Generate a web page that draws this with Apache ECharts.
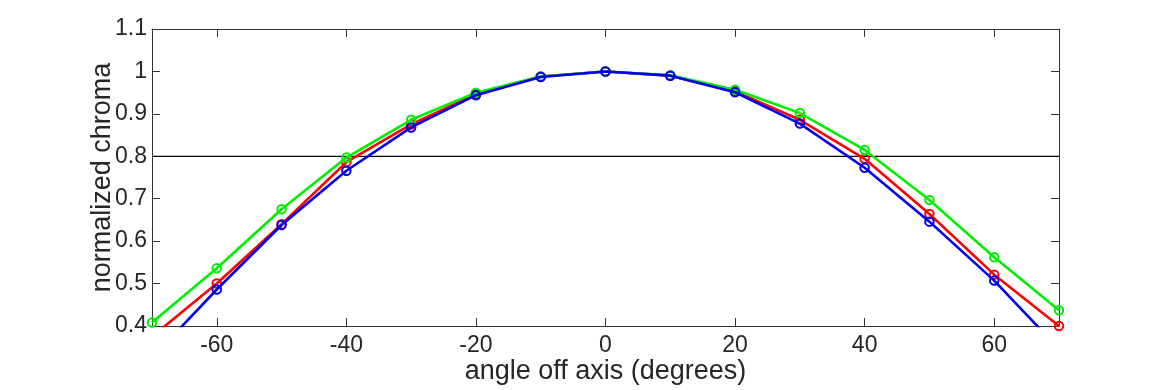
<!DOCTYPE html>
<html><head><meta charset="utf-8">
<script src="https://cdn.jsdelivr.net/npm/echarts@6/dist/echarts.min.js"></script>
<style>html,body{margin:0;padding:0;background:#fff}#c{width:1170px;height:390px}</style>
</head><body><div id="c"></div>
<script>
const angles = [-70,-60,-50,-40,-30,-20,-10,0,10,20,30,40,50,60,70];
const redVals   = [0.375,0.500,0.640,0.786,0.875,0.947,0.988,1.000,0.990,0.953,0.886,0.794,0.664,0.521,0.400];
const greenVals = [0.408,0.536,0.675,0.797,0.886,0.950,0.988,1.000,0.991,0.957,0.902,0.815,0.697,0.562,0.437];
const blueVals  = [0.325,0.486,0.638,0.766,0.868,0.944,0.987,1.000,0.990,0.951,0.877,0.773,0.646,0.507,0.346];
const xTicks = [-60,-40,-20,0,20,40,60];
const yTicks = [0.4,0.5,0.6,0.7,0.8,0.9,1,1.1];
const refLevel = 0.8;

const font = 'Liberation Sans, Arial, sans-serif';
const txt = '#262626';
function mk(vals, color, z){
  return {type:'line', data: angles.map((a,i)=>[a, vals[i]]), clip:true, z:z,
    symbol:'circle', symbolSize:8.5, showSymbol:true,
    itemStyle:{color:'rgba(0,0,0,0)', borderColor:color, borderWidth:2},
    lineStyle:{color:color, width:2.6}, emphasis:{disabled:true}};
}
const chart = echarts.init(document.getElementById('c'), null, {renderer:'canvas'});
const axLine = {show:true, onZero:false, lineStyle:{color:'#333', width:1}};
const tick = v => ({show:true, inside:true, length:8, customValues:v, lineStyle:{color:'#333'}});
chart.setOption({
  animation:false,
  grid:{left:152, right:111, top:29, bottom:62.5, containLabel:false},
  xAxis:[
    {type:'value', min:-70, max:70, position:'bottom',
     axisLine:axLine, splitLine:{show:false}, axisTick:tick(xTicks),
     axisLabel:{customValues:xTicks, fontSize:23, color:txt, fontFamily:font, margin:8},
     name:'angle off axis (degrees)', nameLocation:'middle', nameGap:32, nameMoveOverlap:false,
     nameTextStyle:{fontSize:27, color:txt, fontFamily:font}},
    {type:'value', min:-70, max:70, position:'top',
     axisLine:axLine, splitLine:{show:false}, axisTick:tick(xTicks),
     axisLabel:{show:false}}
  ],
  yAxis:[
    {type:'value', min:0.4, max:1.1, position:'left',
     axisLine:axLine, splitLine:{show:false}, axisTick:tick(yTicks),
     axisLabel:{customValues:yTicks, fontSize:23, color:txt, fontFamily:font, margin:5,
       formatter:v=>String(Math.round(v*10)/10)},
     name:'normalized chroma', nameLocation:'middle', nameGap:36, nameMoveOverlap:false,
     nameTextStyle:{fontSize:27, color:txt, fontFamily:font}},
    {type:'value', min:0.4, max:1.1, position:'right',
     axisLine:axLine, splitLine:{show:false}, axisTick:tick(yTicks),
     axisLabel:{show:false}}
  ],
  series:[
    {type:'line', data:[[-70,refLevel],[70,refLevel]], symbol:'none', z:1,
     lineStyle:{color:'#000', width:1.2}, emphasis:{disabled:true}},
    mk(redVals,'#ff0000',2),
    mk(greenVals,'#00ee00',3),
    mk(blueVals,'#0000ee',4)
  ]
});
</script></body></html>
